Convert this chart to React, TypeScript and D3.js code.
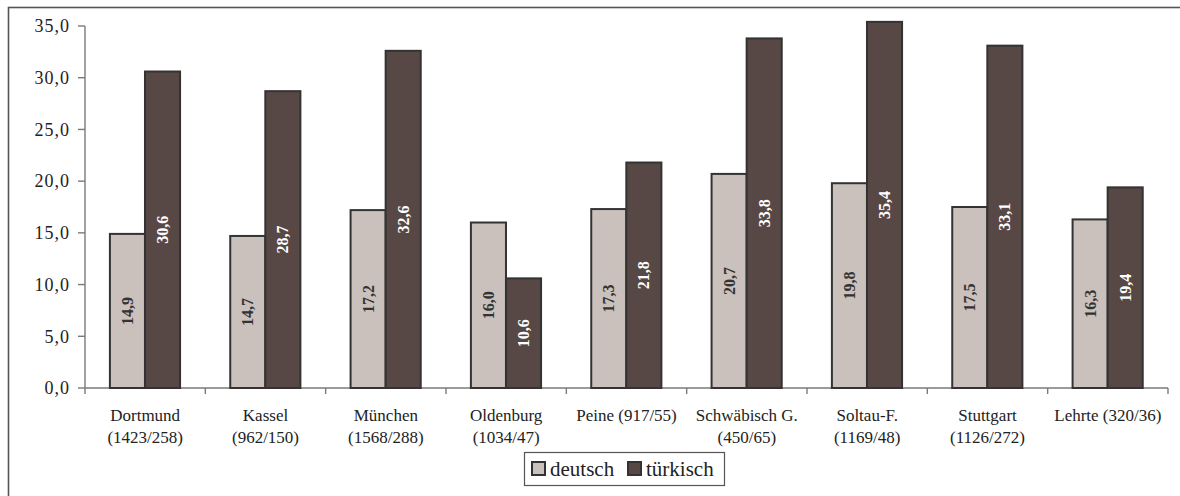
import React from "react";
import * as d3 from "d3";

const categories = [
  "Dortmund|(1423/258)",
  "Kassel|(962/150)",
  "München|(1568/288)",
  "Oldenburg|(1034/47)",
  "Peine (917/55)",
  "Schwäbisch G.|(450/65)",
  "Soltau-F.|(1169/48)",
  "Stuttgart|(1126/272)",
  "Lehrte (320/36)",
];
const deutsch = [14.9, 14.7, 17.2, 16.0, 17.3, 20.7, 19.8, 17.5, 16.3];
const tuerkisch = [30.6, 28.7, 32.6, 10.6, 21.8, 33.8, 35.4, 33.1, 19.4];
const seriesNames = ["deutsch", "türkisch"];
const yTicks = [0, 5, 10, 15, 20, 25, 30, 35];

const FONT = "'Liberation Serif', 'Times New Roman', Times, 'DejaVu Serif', serif";
const COLORS = ["#CAC0BC", "#574845"];
const LABEL_COLORS = ["#333333", "#ffffff"];

const fmt = (v: number) => v.toFixed(1).replace(".", ",");

export default function App() {
  const x0 = d3.scaleBand<string>().domain(categories).range([85, 1168]).padding(0);
  const bw = x0.bandwidth();
  const x1 = d3
    .scaleBand<string>()
    .domain(seriesNames)
    .range([bw * 0.207, bw * 0.79])
    .padding(0);
  const y = d3.scaleLinear().domain([0, 35]).range([388, 26]);
  const series = [deutsch, tuerkisch];
  const tf = { fontFamily: FONT } as React.CSSProperties;

  return (
    <svg
      width={1180}
      height={496}
      style={{ position: "absolute", left: 0, top: 0, background: "#fff", fontFamily: FONT }}
    >
      <rect x={8.5} y={7.5} width={1300} height={600} fill="none" stroke="#555" strokeWidth={1.6} />
      {/* y axis */}
      <line x1={85} x2={85} y1={y(35)} y2={394} stroke="#7a7a7a" strokeWidth={1.4} />
      {yTicks.map((t) => (
        <g key={t}>
          <line x1={78} x2={85} y1={y(t)} y2={y(t)} stroke="#7a7a7a" strokeWidth={1.4} />
          <text
            x={70}
            y={y(t)}
            dy="0.35em"
            textAnchor="end"
            style={tf}
            fontSize={18}
            letterSpacing={1}
            fill="#222"
          >
            {fmt(t)}
          </text>
        </g>
      ))}
      {/* x axis */}
      <line x1={85} x2={1168} y1={388} y2={388} stroke="#7a7a7a" strokeWidth={1.4} />
      {categories.map((c, i) => (
        <line
          key={"t" + i}
          x1={(x0(c) as number) + bw}
          x2={(x0(c) as number) + bw}
          y1={388}
          y2={394}
          stroke="#7a7a7a"
          strokeWidth={1.4}
        />
      ))}
      {/* bars */}
      {categories.map((c, i) => (
        <g key={"b" + i} transform={`translate(${x0(c)},0)`}>
          {seriesNames.map((s, j) => {
            const v = series[j][i];
            const bx = x1(s) as number;
            const w = x1.bandwidth();
            return (
              <g key={s}>
                <rect
                  x={bx}
                  y={y(v)}
                  width={w}
                  height={388 - y(v)}
                  fill={COLORS[j]}
                  stroke="#333"
                  strokeWidth={2}
                />
                <text
                  transform={`translate(${bx + w / 2},${(y(v) + 388) / 2}) rotate(-90)`}
                  textAnchor="middle"
                  dy="0.35em"
                  style={tf}
                  fontWeight="bold"
                  fontSize={16}
                  fill={LABEL_COLORS[j]}
                >
                  {fmt(v)}
                </text>
              </g>
            );
          })}
        </g>
      ))}
      {/* category labels */}
      {categories.map((c, i) => {
        const lines = c.split("|");
        const cx = (x0(c) as number) + bw / 2;
        return (
          <text key={"c" + i} textAnchor="middle" style={tf} fontSize={17} fill="#222">
            {lines.map((l, k) => (
              <tspan key={k} x={cx} y={421 + k * 22}>
                {l}
              </tspan>
            ))}
          </text>
        );
      })}
      {/* legend */}
      <rect x={524.5} y={452.5} width={200} height={33} fill="#fff" stroke="#555" strokeWidth={1.2} />
      {seriesNames.map((s, j) => {
        const lx = j === 0 ? 532 : 628;
        return (
          <g key={"l" + s}>
            <rect x={lx} y={462} width={13} height={13} fill={COLORS[j]} stroke="#333" strokeWidth={2} />
            <text x={lx + 18} y={475.5} style={tf} fontSize={21} fill="#222">
              {s}
            </text>
          </g>
        );
      })}
    </svg>
  );
}
